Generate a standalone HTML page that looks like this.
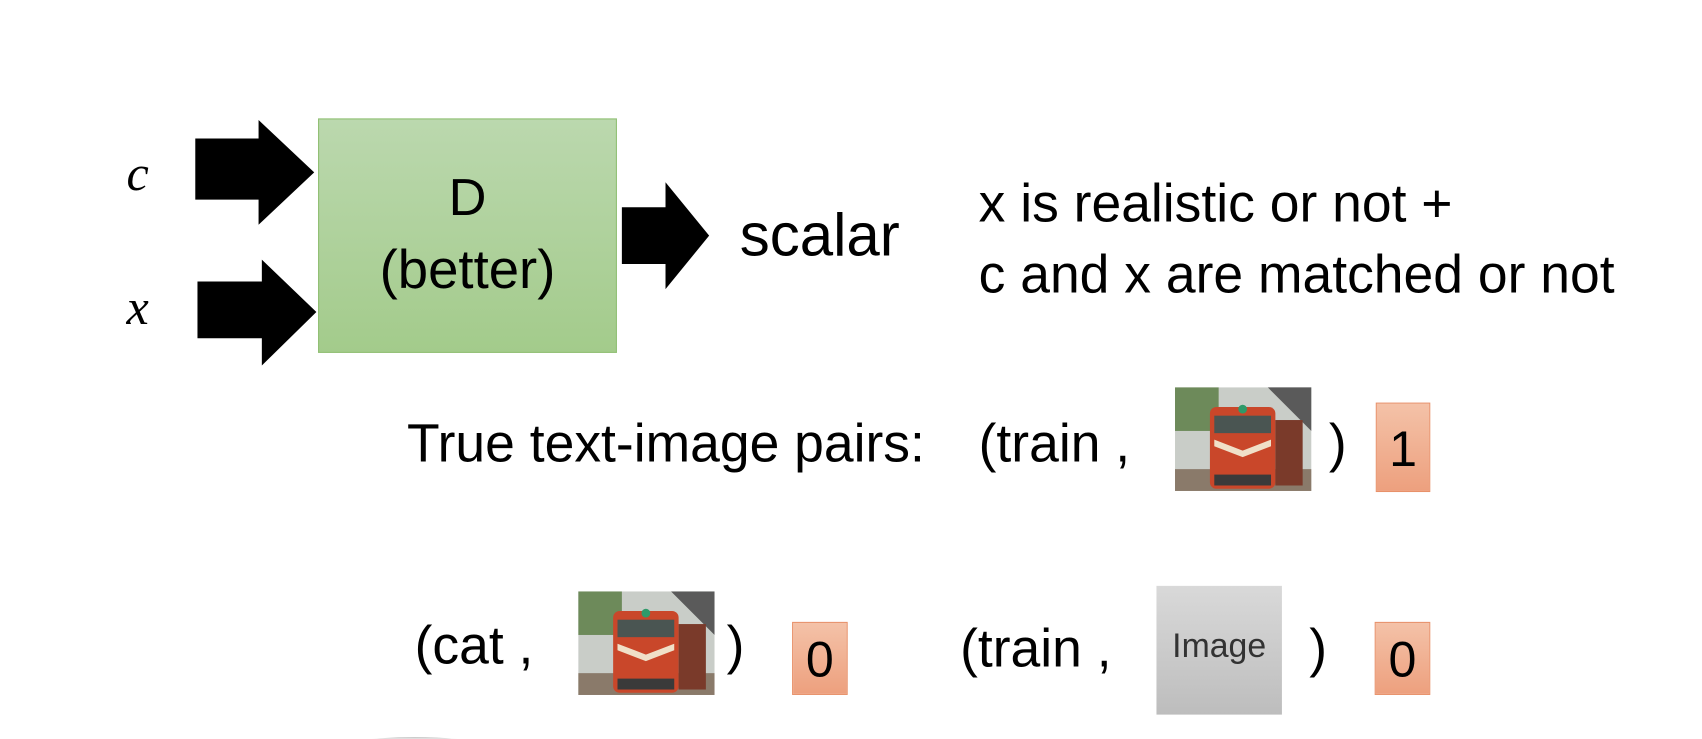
<!DOCTYPE html>
<html><head><meta charset="utf-8"><style>
body{margin:0;width:1702px;height:738px;background:#fff;position:relative;overflow:hidden;font-family:"Liberation Sans",sans-serif;color:#000}
#w{position:absolute;left:0;top:0;width:1560px;height:677px;transform:scale(1.091);transform-origin:0 0}
.t{position:absolute;white-space:nowrap;line-height:1}
.ob{position:absolute;background:linear-gradient(#f4c2a8,#eda07e);border:1px solid #e8916a;font-size:46px;text-align:center;box-sizing:border-box}
</style></head><body><div id="w">
<svg width="1560" height="677" style="position:absolute;left:0;top:0">
<defs>
<linearGradient id="g" x1="0" y1="0" x2="0" y2="1"><stop offset="0" stop-color="#bbd8ae"/><stop offset="1" stop-color="#a3cb8b"/></linearGradient>
<linearGradient id="gr" x1="0" y1="0" x2="0" y2="1"><stop offset="0" stop-color="#d9d9d9"/><stop offset="1" stop-color="#bdbdbd"/></linearGradient>
<symbol id="tr" viewBox="0 0 125 95">
<rect width="125" height="95" fill="#c9cdc8"/>
<rect x="0" y="0" width="40" height="40" fill="#6d8a5a"/>
<polygon points="85,0 125,0 125,40" fill="#5a5a5a"/>
<rect x="0" y="75" width="125" height="20" fill="#8a7a6a"/>
<rect x="32" y="18" width="60" height="75" rx="6" fill="#c9472a"/>
<rect x="36" y="26" width="52" height="16" fill="#4a5552"/>
<path d="M36 48 L62 58 L88 48 L88 54 L62 64 L36 54Z" fill="#f0e0c8"/>
<rect x="36" y="80" width="52" height="10" fill="#3a3a3a"/>
<circle cx="62" cy="20" r="4" fill="#2f9a6a"/>
<rect x="92" y="30" width="25" height="60" fill="#7a3a2a"/>
</symbol>
</defs>
<rect x="292" y="109" width="273" height="214" fill="url(#g)" stroke="#8fbf72" stroke-width="1"/>
<polygon points="179,127 237,127 237,110 288,158 237,206 237,183 179,183" fill="#000"/>
<polygon points="181,258 240,258 240,238 290,286 240,335 240,310 181,310" fill="#000"/>
<polygon points="570,190 610,190 610,167 650,216 610,265 610,242 570,242" fill="#000"/>
<use href="#tr" x="1077" y="355" width="125" height="95"/>
<use href="#tr" x="530" y="542" width="125" height="95"/>
<rect x="1060" y="537" width="115" height="118" fill="url(#gr)"/>
<path d="M330 680 Q380 674 430 680" stroke="#ccc" stroke-width="3" fill="none"/>
</svg>
<div class="t" style="left:116px;top:136px;font-size:46px;font-family:'Liberation Serif',serif;font-style:italic">c</div>
<div class="t" style="left:116px;top:259px;font-size:46px;font-family:'Liberation Serif',serif;font-style:italic">x</div>
<div class="t" style="left:292px;width:273px;text-align:center;top:158px;font-size:48px">D</div>
<div class="t" style="left:292px;width:273px;text-align:center;top:222px;font-size:50px">(better)</div>
<div class="t" style="left:678px;top:188px;font-size:55px">scalar</div>
<div class="t" style="left:897px;top:163px;font-size:49px">x is realistic or not +</div>
<div class="t" style="left:897px;top:228px;font-size:49px">c and x are matched or not</div>
<div class="t" style="left:373px;top:383px;font-size:49px">True text-image pairs:</div>
<div class="t" style="left:897px;top:383px;font-size:49px">(train ,</div>
<div class="t" style="left:1218px;top:383px;font-size:49px">)</div>
<div class="ob" style="left:1261px;top:369px;width:50px;height:82px;line-height:82px">1</div>
<div class="t" style="left:380px;top:568px;font-size:49px">(cat ,</div>
<div class="t" style="left:666px;top:568px;font-size:49px">)</div>
<div class="ob" style="left:726px;top:570px;width:51px;height:67px;line-height:67px">0</div>
<div class="t" style="left:880px;top:571px;font-size:49px">(train ,</div>
<div class="t" style="left:1060px;width:115px;text-align:center;top:576px;font-size:31px;color:#333">Image</div>
<div class="t" style="left:1200px;top:571px;font-size:49px">)</div>
<div class="ob" style="left:1260px;top:570px;width:51px;height:67px;line-height:67px">0</div>
</div></body></html>
